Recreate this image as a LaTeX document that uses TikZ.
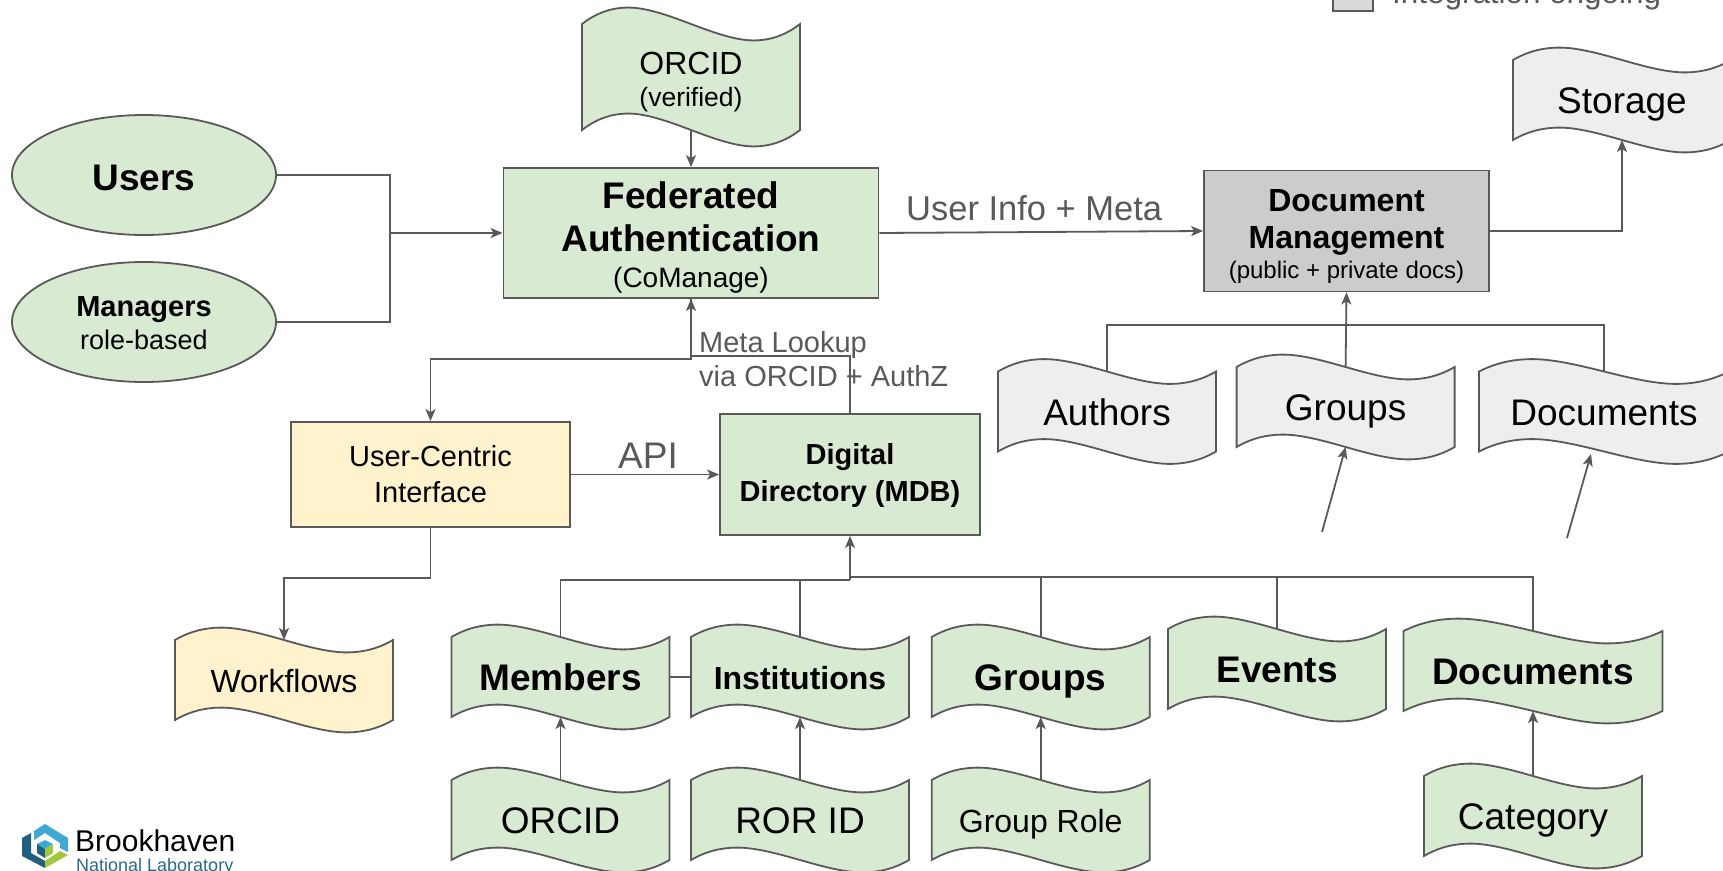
\documentclass[tikz,border=0pt]{standalone}
\usepackage{fontspec}
\setmainfont{Liberation Sans}
\usetikzlibrary{shapes.geometric,arrows.meta}
\definecolor{linegray}{HTML}{595959}
\definecolor{greenfill}{HTML}{D9EAD3}
\definecolor{yellowfill}{HTML}{FFF2CC}
\definecolor{grayfill}{HTML}{CCCCCC}
\definecolor{legendfill}{HTML}{D9D9D9}
\definecolor{lightfill}{HTML}{EEEEEE}
\definecolor{logoblue}{HTML}{3FA9D6}
\definecolor{logoteal}{HTML}{1F5F7F}
\definecolor{logolime}{HTML}{A4C639}
\definecolor{logotext}{HTML}{2A6A85}
\newcommand{\lift}[1]{\rule{0pt}{#1pt}}
% flag shape: a rectangle whose top and bottom edges are waves
\newdimen\waveL \newdimen\waveW \newdimen\waveT \newdimen\waveB \newdimen\waveA
\newcommand{\wavept}[3]{\pgfqpoint{\dimexpr\waveL+#1\waveW\relax}{\dimexpr#3+#2\waveA\relax}}
\pgfdeclareshape{wavebox}{
  \inheritsavedanchors[from=rectangle]
  \inheritanchorborder[from=rectangle]
  \inheritanchor[from=rectangle]{center}
  \inheritanchor[from=rectangle]{text}
  \inheritanchor[from=rectangle]{north}
  \inheritanchor[from=rectangle]{south}
  \inheritanchor[from=rectangle]{east}
  \inheritanchor[from=rectangle]{west}
  \backgroundpath{
    \pgfextractx{\waveL}{\southwest}
    \pgfextracty{\waveB}{\southwest}
    \pgfextractx{\waveW}{\northeast}
    \pgfextracty{\waveT}{\northeast}
    \advance\waveW by -\waveL
    \waveA=\waveT \advance\waveA by -\waveB
    \waveA=0.155\waveA
    \pgfpathmoveto{\wavept{0}{0}{\waveT}}
    \pgfpathcurveto{\wavept{.07}{.72}{\waveT}}{\wavept{.14}{1}{\waveT}}{\wavept{.214}{1}{\waveT}}
    \pgfpathcurveto{\wavept{.30}{1}{\waveT}}{\wavept{.41}{.45}{\waveT}}{\wavept{.5}{0}{\waveT}}
    \pgfpathcurveto{\wavept{.59}{-.45}{\waveT}}{\wavept{.70}{-1}{\waveT}}{\wavept{.786}{-1}{\waveT}}
    \pgfpathcurveto{\wavept{.86}{-1}{\waveT}}{\wavept{.93}{-.72}{\waveT}}{\wavept{1}{0}{\waveT}}
    \pgfpathlineto{\wavept{1}{0}{\waveB}}
    \pgfpathcurveto{\wavept{.93}{-.72}{\waveB}}{\wavept{.86}{-1}{\waveB}}{\wavept{.786}{-1}{\waveB}}
    \pgfpathcurveto{\wavept{.70}{-1}{\waveB}}{\wavept{.59}{-.45}{\waveB}}{\wavept{.5}{0}{\waveB}}
    \pgfpathcurveto{\wavept{.41}{.45}{\waveB}}{\wavept{.30}{1}{\waveB}}{\wavept{.214}{1}{\waveB}}
    \pgfpathcurveto{\wavept{.14}{1}{\waveB}}{\wavept{.07}{.72}{\waveB}}{\wavept{0}{0}{\waveB}}
    \pgfpathclose
  }
}
\begin{document}
\begin{tikzpicture}[
    x=1pt, y=-1pt,
    font=\fontsize{37}{43}\selectfont,
    person/.style={ellipse, draw=linegray, line width=1.8pt, fill=greenfill, minimum width=264pt, minimum height=120pt, align=center, inner sep=0pt},
    boxnode/.style={rectangle, draw=linegray, line width=1.8pt, fill=greenfill, align=center, inner sep=0pt},
    wave/.style={shape=wavebox, draw=linegray, line width=1.8pt, fill=greenfill, minimum width=218pt, minimum height=80pt, align=center, inner sep=0pt, outer sep=0pt, text height=27.5pt, text depth=0pt},
    wavesmall/.style={wave, font=\fontsize{32}{37}\selectfont, text height=24pt},
    wavetall/.style={wave, minimum height=106pt, text height={}, text depth={}},
    graywave/.style={wave, fill=lightfill},
    conn/.style={draw=linegray, line width=1.8pt},
    arrow/.style={conn, -{Stealth[length=12pt, width=10pt, inset=3pt]}},
    lbl/.style={text=linegray, inner sep=0pt}
]
\path[use as bounding box, clip] (0,0) rectangle (1723,870);

% legend
\node[boxnode, fill=legendfill, minimum width=40pt, minimum height=30pt] (legendbox) at (1353,-4) {};
\node[lbl, anchor=base west, font=\fontsize{31.4}{36}\selectfont] (legendtext) at (1392,3) {Integration ongoing};

% people
\node[person, text height=30pt, text depth=0pt] (users) at (144,175) {\textbf{Users}};
\node[person] (managers) at (144,322) {\fontsize{29}{33}\selectfont\lift{23}\textbf{Managers}\\[-10pt]\fontsize{27}{31}\selectfont role-based};

% main boxes
\node[boxnode, minimum width=375pt, minimum height=130pt] (auth) at (691,233) {\lift{36}\textbf{Federated}\\\textbf{Authentication}\\[-6.4pt]\fontsize{28}{32}\selectfont (CoManage)};
\node[boxnode, fill=grayfill, minimum width=285pt, minimum height=121pt] (docmgmt) at (1346.5,231) {\fontsize{32}{38}\selectfont\lift{32.4}\textbf{Document}\\[-5.6pt]\fontsize{32}{38}\selectfont\textbf{Management}\\[-13pt]\fontsize{24}{28}\selectfont (public + private docs)};
\node[boxnode, fill=yellowfill, minimum width=279pt, minimum height=105pt] (interface) at (430.5,474.5) {\fontsize{29}{36}\selectfont User-Centric\\[-7pt]\fontsize{29}{36}\selectfont Interface};
\node[boxnode, minimum width=260pt, minimum height=121pt] (directory) at (850,474.5) {\fontsize{29}{36}\selectfont\lift{23}\textbf{Digital}\\[-6pt]\fontsize{29}{36}\selectfont\textbf{Directory (MDB)}};

% top waves
\node[wavetall] (orcidtop) at (691,77) {\fontsize{32}{36}\selectfont\lift{32.4}ORCID\\[-11pt]\fontsize{26.5}{31}\selectfont (verified)};
\node[graywave] (storage) at (1622,100) {Storage};
\node[graywave] (authors) at (1107,411.5) {Authors};
\node[graywave] (groupsdoc) at (1345.6,407) {Groups};
\node[graywave, minimum width=250pt] (documentsdoc) at (1604,411.5) {Documents};

% middle row
\node[wavesmall, fill=yellowfill] (workflows) at (284,680) {Workflows};
\node[wave] (members) at (560.5,677) {\textbf{Members}};
\node[wavesmall] (institutions) at (800,677) {\textbf{Institutions}};
\node[wave] (groups) at (1040.7,677) {\textbf{Groups}};
\node[wave] (events) at (1277,669) {\textbf{Events}};
\node[wave, minimum width=259pt] (documents) at (1533,671) {\textbf{Documents}};

% bottom row
\node[wave] (orcid) at (560.5,820) {ORCID};
\node[wave] (rorid) at (800,820) {ROR ID};
\node[wavesmall] (grouprole) at (1040.7,820) {Group Role};
\node[wave] (category) at (1533,816) {Category};

% helper points
\coordinate (authin) at (390,233);
\coordinate (lookup) at (691,356);
\coordinate (toiface) at (691,359);
\coordinate (belowiface) at (430.5,578);
\coordinate (busleft) at (850,580);
\coordinate (busright) at (850,577);
\coordinate (docbus) at (1346.5,325);
\coordinate (freea) at (1322,532);
\coordinate (freeb) at (1567,538);

% connectors
\draw[conn] (users.east) -| (authin);
\draw[conn] (managers.east) -| (authin);
\draw[arrow] (authin) -- (auth.west);
\draw[arrow] (orcidtop.south) -- (auth.north);
\draw[arrow] (auth.east) -- (docmgmt.west);
\draw[arrow] (docmgmt.east) -| (storage.south);
\draw[arrow] (directory.north) |- (lookup) -- (auth.south);
\draw[arrow] (auth.south) -- (toiface) -| (interface.north);
\draw[arrow] (interface.east) -- (directory.west);
\draw[conn] (interface.south) -- (belowiface);
\draw[arrow] (belowiface) -| (workflows.north);
\draw[arrow] (groupsdoc.north) -- (docmgmt.south);
\draw[conn] (authors.north) |- (docbus);
\draw[conn] (documentsdoc.north) |- (docbus);
\draw[arrow] (freea) -- (groupsdoc.south);
\draw[arrow] (freeb) -- ([xshift=-13pt,yshift=-2.5pt]documentsdoc.south);
\draw[arrow] (busleft) -- (directory.south);
\foreach \n in {members,institutions} \draw[conn] (\n.north) |- (busleft);
\foreach \n in {groups,events,documents} \draw[conn] (\n.north) |- (busright);
\draw[conn] (members.east) -- (institutions.west);
\draw[arrow] (orcid.north) -- (members.south);
\draw[arrow] (rorid.north) -- (institutions.south);
\draw[arrow] (grouprole.north) -- (groups.south);
\draw[arrow] (category.north) -- (documents.south);

% labels
\node[lbl, anchor=west, font=\fontsize{34.5}{40}\selectfont] (infolabel) at (906,208) {User Info + Meta};
\node[lbl, anchor=west, align=left, font=\fontsize{29}{34.5}\selectfont] (lookuplabel) at (699,359) {Meta Lookup\\via ORCID + AuthZ};
\node[lbl] (apilabel) at (648,456) {API};

% logo
\fill[logoblue] (34,831) -- (45,824) -- (68,838) -- (68,852) -- (60,848) -- (60,843) -- (45,833) -- (34,840) -- cycle;
\fill[logoteal] (22,838) -- (31,833) -- (31,853) -- (45,861) -- (45,868) -- (22,856) -- cycle;
\fill[logolime] (60,851) -- (68,855) -- (45,868) -- (45,861) -- cycle;
\fill[logoblue] (37,844) -- (45,840) -- (53,844) -- (45,849) -- cycle;
\fill[logoteal] (37,844) -- (45,849) -- (45,858) -- (37,853) -- cycle;
\fill[logolime] (53,844) -- (45,849) -- (45,858) -- (53,853) -- cycle;
\node[anchor=base west, inner sep=0pt, font=\fontsize{30}{34}\selectfont] (logoname) at (75,851) {Brookhaven};
\node[anchor=base west, inner sep=0pt, text=logotext, font=\fontsize{18}{22}\selectfont] (logosub) at (76,871) {National Laboratory};
\end{tikzpicture}
\end{document}
